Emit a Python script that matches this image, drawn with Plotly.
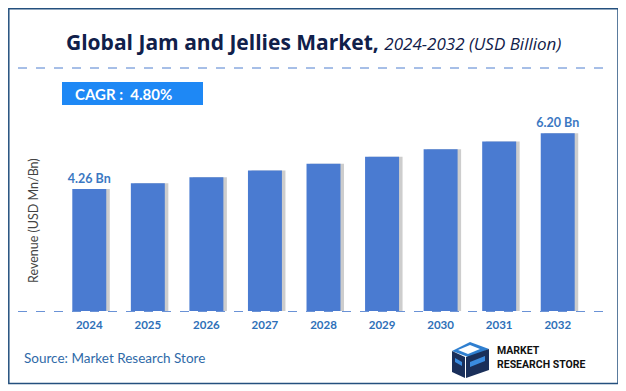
import plotly.graph_objects as go

years = ["2024", "2025", "2026", "2027", "2028", "2029", "2030", "2031", "2032"]
revenue = [4.26, 4.46, 4.67, 4.90, 5.14, 5.38, 5.64, 5.91, 6.20]
bar_labels = ["4.26 Bn", "", "", "", "", "", "", "", "6.20 Bn"]

W, H = 626, 391
OFF = 8  # page body margin offset


def px(x):
    return (x - OFF) / W


def py(y):
    return 1 - (y - OFF) / H


FONT = "Lato"
BAR = "#4a7bd1"

fig = go.Figure()
# soft shadow behind bars
fig.add_trace(go.Bar(x=years, y=revenue, width=0.58, offset=-0.29 + 0.06,
                     marker=dict(color="rgba(90,90,90,0.30)", line=dict(width=0)),
                     hoverinfo="skip", showlegend=False))
fig.add_trace(go.Bar(x=years, y=revenue, width=0.58, offset=-0.29,
                     marker=dict(color=BAR, line=dict(width=0)),
                     text=bar_labels, textposition="outside", cliponaxis=False,
                     constraintext="none",
                     textfont=dict(family=FONT, size=12.5, color="#3b78c2", weight="bold"),
                     showlegend=False))

fig.update_layout(
    width=W, height=H, barmode="overlay",
    margin=dict(l=0, r=0, t=0, b=0),
    paper_bgcolor="white", plot_bgcolor="white",
    font=dict(family=FONT),
    xaxis=dict(domain=[px(60), px(587)], showgrid=False, zeroline=False, showline=False,
               ticks="", ticklabelstandoff=5,
               tickfont=dict(family=FONT, size=11.5, color="#2e70b8", weight="bold")),
    yaxis=dict(domain=[py(311), py(96)], range=[0, 7.5], showgrid=False, zeroline=False,
               showline=False, showticklabels=False, ticks=""),
)

shapes = []
# outer border
shapes.append(dict(type="rect", xref="paper", yref="paper", x0=px(8.8), x1=px(618),
                   y0=py(383.5), y1=py(8.8), line=dict(color="#24507e", width=1.5)))
# dashed separator under title
shapes.append(dict(type="line", xref="paper", yref="paper", x0=px(18), x1=px(605),
                   y0=py(68), y1=py(68), line=dict(color="#4f7fcf", width=1, dash="dash")))
# dashed baseline
shapes.append(dict(type="line", xref="paper", yref="paper", x0=px(18), x1=px(605),
                   y0=py(311.5), y1=py(311.5), line=dict(color="#6a92d6", width=1, dash="dash")))
# CAGR box
shapes.append(dict(type="rect", xref="paper", yref="paper", x0=px(62), x1=px(203),
                   y0=py(105), y1=py(82), fillcolor="#1e88f5", line=dict(width=0)))


def poly(pts, color):
    p = "M " + " L ".join(f"{px(a)},{py(b)}" for a, b in pts) + " Z"
    return dict(type="path", xref="paper", yref="paper", path=p, fillcolor=color, line=dict(width=0))


# logo icon (rough cube-like mark)
shapes.append(poly([(452, 351), (470, 342), (489, 349), (471, 358)], "#2f7fd0"))
shapes.append(poly([(458, 350), (470, 345), (480, 349), (468, 354)], "#ffffff"))
shapes.append(poly([(452, 351), (465, 357), (465, 378), (452, 372)], "#1a2f5a"))
shapes.append(poly([(466, 357), (489, 349), (489, 370), (466, 378)], "#1a2f5a"))
shapes.append(poly([(470, 362), (485, 356), (485, 361), (470, 367)], "#3a8be0"))
shapes.append(poly([(455, 358), (462, 362), (462, 366), (455, 362)], "#3a8be0"))
fig.update_layout(shapes=shapes)

ann = []
ann.append(dict(xref="paper", yref="paper", x=px(313), y=py(42), xanchor="center", yanchor="middle",
                showarrow=False,
                text="<b>Global Jam and Jellies Market,</b> <i><span style='font-size:17px'>2024-2032 (USD Billion)</span></i>",
                font=dict(family="Open Sans", size=21, color="#10204a")))
ann.append(dict(xref="paper", yref="paper", x=px(73), y=py(93.5), xanchor="left", yanchor="middle",
                showarrow=False, text="<b>CAGR :  4.80%</b>",
                font=dict(family=FONT, size=15, color="white")))
ann.append(dict(xref="paper", yref="paper", x=px(33), y=py(221), xanchor="center", yanchor="middle",
                showarrow=False, text="Revenue (USD Mn/Bn)", textangle=-90,
                font=dict(family=FONT, size=12.5, color="#444444")))
ann.append(dict(xref="paper", yref="paper", x=px(22), y=py(358), xanchor="left", yanchor="middle",
                showarrow=False, text="Source: Market Research Store",
                font=dict(family=FONT, size=13.5, color="#2f6aa8")))
ann.append(dict(xref="paper", yref="paper", x=px(495), y=py(357), xanchor="left", yanchor="middle",
                showarrow=False, text="<b>MARKET<br>RESEARCH STORE</b>", align="left",
                font=dict(family="Roboto", size=10.5, color="#111111")))
fig.update_layout(annotations=ann)

fig.write_html("out.html")
